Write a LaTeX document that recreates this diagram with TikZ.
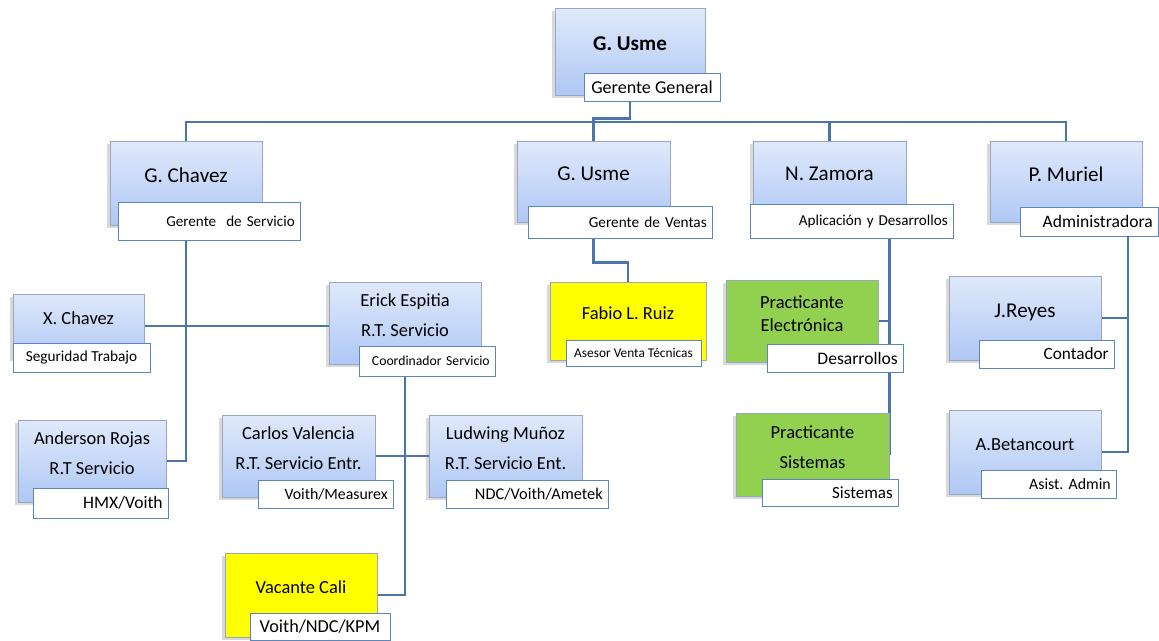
\documentclass[tikz,border=0pt]{standalone}
\usepackage{fontspec}
\setmainfont{Carlito}
\usepackage{tikz}
\usetikzlibrary{backgrounds,shadows}
\frenchspacing

\definecolor{linkblue}{HTML}{4A74AC}
\definecolor{boxedge}{HTML}{97A7C4}
\definecolor{tagedge}{HTML}{5B86C0}
\definecolor{boxtop}{HTML}{E0E9FB}
\definecolor{boxbottom}{HTML}{AFC8F5}
\definecolor{vacyellow}{HTML}{FFFF00}
\definecolor{practgreen}{HTML}{92D050}

\begin{document}
\begin{tikzpicture}[
    x=0.02cm, y=-0.02cm,
    box/.style={rectangle, draw=boxedge, top color=boxtop, bottom color=boxbottom, align=center, text depth=0.3cm,
        drop shadow={opacity=0.3, shadow xshift=-1.5pt, shadow yshift=-1.5pt}, font=\fontsize{10.5}{17}\selectfont},
    plainbox/.style={rectangle, draw=boxedge, align=center, text depth=0.3cm,
        drop shadow={opacity=0.3, shadow xshift=-1.5pt, shadow yshift=-1.5pt}, font=\fontsize{10.5}{17}\selectfont},
    big/.style={font=\fontsize{12}{15}\selectfont},
    tag/.style={rectangle, draw=tagedge, fill=white, inner xsep=3pt, inner ysep=1pt},
    link/.style={draw=linkblue, line width=1.6pt}
]
    \useasboundingbox (0,0) rectangle (1159,640);

    % top
    \node[box, big, minimum width=3cm, minimum height=1.74cm] (usme) at (630,51.5) {\bfseries G. Usme};
    \node[tag, minimum width=2.72cm, minimum height=0.56cm, font=\fontsize{10.3}{12}\selectfont] (usmeTag) at (652,87) {Gerente General};

    % second row
    \node[box, big, minimum width=3.04cm, minimum height=1.68cm] (chavez) at (186,183) {G. Chavez};
    \node[tag, text width=3.43cm, align=right, minimum height=0.76cm, font=\fontsize{8.6}{10}\selectfont] (chavezTag) at (209,221) {Gerente\ \ de Servicio};

    \node[box, big, minimum width=3.06cm, minimum height=1.62cm] (ventas) at (593.5,181.5) {G. Usme};
    \node[tag, text width=3.47cm, align=right, minimum height=0.64cm, font=\fontsize{8.7}{10}\selectfont] (ventasTag) at (620,222) {Gerente de Ventas};

    \node[box, big, minimum width=3.06cm, minimum height=1.62cm] (zamora) at (829.5,181.5) {N. Zamora};
    \node[tag, text width=3.85cm, align=right, minimum height=0.68cm, font=\fontsize{8.6}{10}\selectfont] (zamoraTag) at (851.5,221) {Aplicación y Desarrollos};

    \node[box, big, minimum width=3.04cm, minimum height=1.62cm] (muriel) at (1066,181.5) {P. Muriel};
    \node[tag, text width=2.55cm, align=right, minimum height=0.58cm, font=\fontsize{10}{12}\selectfont] (murielTag) at (1089,221.5) {Administradora};

    % third row
    \node[box, minimum width=2.62cm, minimum height=1.28cm] (xchavez) at (78.5,326) {X. Chavez};
    \node[tag, minimum width=2.74cm, minimum height=0.58cm, font=\fontsize{8.7}{10}\selectfont] (xchavezTag) at (81.5,357.5) {Seguridad Trabajo};

    \node[box, minimum width=3.04cm, minimum height=1.64cm] (erick) at (405,323) {Erick Espitia\\R.T. Servicio};
    \node[tag, text width=2.51cm, align=right, minimum height=0.6cm, font=\fontsize{7.8}{9}\selectfont] (erickTag) at (427,361) {Coordinador Servicio};

    \node[plainbox, fill=vacyellow, minimum width=3.12cm, minimum height=1.56cm] (ruiz) at (628,321) {Fabio L. Ruiz};
    \node[tag, minimum width=2.7cm, minimum height=0.52cm, font=\fontsize{7.6}{9}\selectfont] (ruizTag) at (633.5,353) {Asesor Venta Técnicas};

    \node[plainbox, fill=practgreen, minimum width=3.04cm, minimum height=1.64cm, font=\fontsize{10.5}{13}\selectfont] (electronica) at (802,321) {Practicante\\Electrónica};
    \node[tag, text width=2.51cm, align=right, minimum height=0.56cm, font=\fontsize{10}{12}\selectfont] (electronicaTag) at (835,358) {Desarrollos};

    \node[box, big, minimum width=3.04cm, minimum height=1.68cm] (reyes) at (1025,318) {J.Reyes};
    \node[tag, text width=2.49cm, align=right, minimum height=0.56cm, font=\fontsize{9.8}{12}\selectfont] (reyesTag) at (1046.5,354) {Contador};

    % fourth row
    \node[box, minimum width=2.96cm, minimum height=1.64cm] (rojas) at (92,461) {Anderson Rojas\\R.T Servicio};
    \node[tag, text width=2.49cm, align=right, minimum height=0.6cm, font=\fontsize{10}{12}\selectfont] (rojasTag) at (100.5,503) {HMX/Voith};

    \node[box, minimum width=3.06cm, minimum height=1.64cm] (carlos) at (298.5,456) {Carlos Valencia\\R.T. Servicio Entr.};
    \node[tag, text width=2.49cm, align=right, minimum height=0.56cm, font=\fontsize{9}{11}\selectfont] (carlosTag) at (325.5,494) {Voith/Measurex};

    \node[box, minimum width=3.06cm, minimum height=1.64cm] (ludwing) at (505.5,456) {Ludwing Muñoz\\R.T. Servicio Ent.};
    \node[tag, text width=3.03cm, align=right, minimum height=0.56cm, font=\fontsize{9.3}{11}\selectfont] (ludwingTag) at (527,494) {NDC/Voith/Ametek};

    \node[plainbox, fill=practgreen, minimum width=3.06cm, minimum height=1.66cm] (sistemas) at (812.5,454.5) {Practicante\\Sistemas};
    \node[tag, text width=2.51cm, align=right, minimum height=0.54cm, font=\fontsize{9.7}{12}\selectfont] (sistemasTag) at (830,492.5) {Sistemas};

    \node[box, minimum width=3.04cm, minimum height=1.68cm] (betancourt) at (1025,452) {A.Betancourt};
    \node[tag, text width=2.49cm, align=right, minimum height=0.56cm, font=\fontsize{9}{11}\selectfont] (betancourtTag) at (1048.5,484) {Asist. Admin};

    % bottom
    \node[plainbox, fill=vacyellow, minimum width=3.04cm, minimum height=1.68cm] (vacante) at (301,595) {Vacante Cali};
    \node[tag, minimum width=2.8cm, minimum height=0.54cm, font=\fontsize{10.4}{12}\selectfont] (vacanteTag) at (320,626.5) {Voith/NDC/KPM};

    \coordinate (bar) at (0,122);
    \coordinate (admlane) at (1128,236);

    \begin{scope}[on background layer]
        \draw[link] (usme.south) -- ++(0,23) -| (ventas.north);
        \draw[link] (chavez.north) -- (chavez.north |- bar) -- (muriel.north |- bar) -- (muriel.north);
        \draw[link] (zamora.north) -- (zamora.north |- bar);
        \draw[link] (chavez.south) |- (rojas.east);
        \draw[link] (xchavez.east) -- (xchavez.east -| erick.west);
        \draw[link] (erick.south) |- (vacante.east);
        \draw[link] (carlos.east) -- (ludwing.west);
        \draw[link] (ventas.south) -- ++(0,40) -| (ruiz.north);
        \draw[link] (zamoraTag.south -| sistemas.east) -- (sistemas.east);
        \draw[link] (electronica.east) -- (electronica.east -| sistemas.east);
        \draw[link] (admlane) |- (betancourt.east);
        \draw[link] (reyes.east) -- (reyes.east -| admlane);
    \end{scope}
\end{tikzpicture}
\end{document}
